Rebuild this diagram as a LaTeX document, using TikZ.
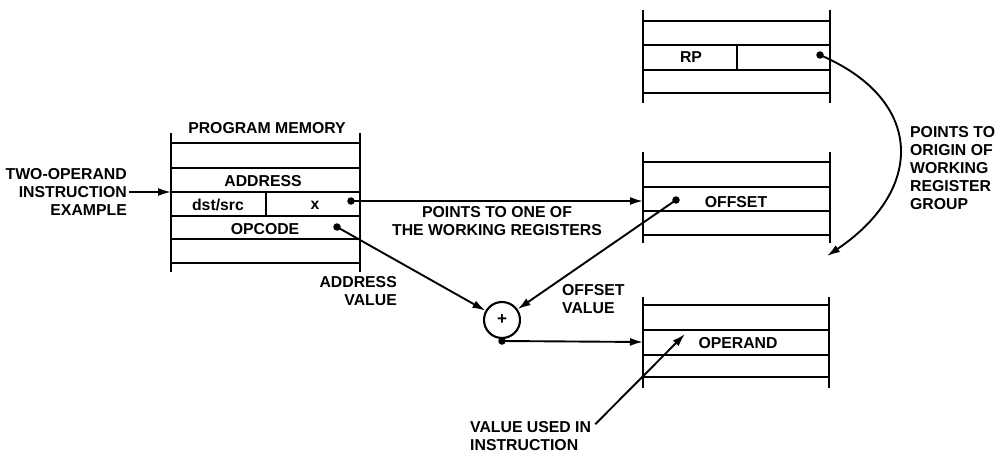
\documentclass[tikz,border=0pt]{standalone}
\usepackage{fontspec}
\setmainfont{Liberation Sans}
\usetikzlibrary{arrows.meta}
\begin{document}
\begin{tikzpicture}[x=1pt,y=-1pt,
  lbl/.style={font=\fontsize{15.8}{18}\selectfont\bfseries, inner sep=0pt},
  hline/.style={line width=2.1pt},
  vline/.style={line width=2.7pt},
  conn/.style={line width=1.9pt, -{Latex[length=13pt,width=8pt]}},
  dotm/.style={circle, fill, inner sep=0pt, minimum size=7.5pt},
  adder/.style={circle, draw, line width=2.1pt, minimum size=36pt, inner sep=0pt, font=\fontsize{17}{18}\selectfont\bfseries}]
\useasboundingbox (0,0) rectangle (997,452);

% ---------- program memory ----------
\draw[vline] (171,133) -- (171,272);
\draw[vline] (360,133) -- (360,272);
\foreach \yy in {143,168,192,216,239,263} \draw[hline] (171,\yy) -- (360,\yy);
\draw[hline] (266,192) -- (266,216);
\node[lbl, anchor=base] (pmtitle) at (267,133) {PROGRAM MEMORY};
\node[lbl, anchor=base] (addr) at (263,186) {ADDRESS};
\node[lbl, anchor=base] (dst) at (218,210) {dst/src};
\node[lbl, anchor=base] (xfld) at (315,209) {x};
\node[lbl, anchor=base] (opc) at (265,234) {OPCODE};
\node[dotm] (xdot) at (351,201) {};
\node[dotm] (opdot) at (337,227) {};

% ---------- register file: RP block ----------
\draw[vline] (643,10) -- (643,103);
\draw[vline] (830,10) -- (830,103);
\foreach \yy in {21,45,70,93} \draw[hline] (643,\yy) -- (830,\yy);
\draw[hline] (737,45) -- (737,70);
\node[lbl, anchor=base] (rp) at (691,63) {RP};
\node[dotm] (rpdot) at (820,55) {};

% ---------- register file: OFFSET block ----------
\draw[vline] (643,152) -- (643,243);
\draw[vline] (830,152) -- (830,243);
\foreach \yy in {162,187,211,235} \draw[hline] (643,\yy) -- (830,\yy);
\node[lbl, anchor=base] (offset) at (736,207) {OFFSET};
\node[dotm] (offdot) at (676,200) {};
\coordinate (offin) at (643,201);

% ---------- register file: OPERAND block ----------
\draw[vline] (643,297) -- (643,388);
\draw[vline] (829,297) -- (829,388);
\foreach \yy in {305,330,355,377} \draw[hline] (643,\yy) -- (829,\yy);
\node[lbl, anchor=base] (operand) at (738,348) {OPERAND};
\coordinate (opin) at (643,342);
\coordinate (usedtip) at (685,334);

% ---------- adder ----------
\node[adder] (plus) at (502,320) {+};
\node[dotm] (plusdot) at (502,341) {};

% ---------- labels ----------
\node[lbl, align=right, anchor=east] (twoop) at (127,191.5) {TWO-OPERAND\\INSTRUCTION\\EXAMPLE};
\coordinate (pmin) at (171,192);
\node[lbl, align=right, anchor=east] (addrval) at (397,291.5) {ADDRESS\\VALUE};
\node[lbl, align=left, anchor=west] (offval) at (562,299) {OFFSET\\VALUE};
\node[lbl, align=center] (pointsone) at (497,221.5) {POINTS TO ONE OF\\THE WORKING REGISTERS};
\node[lbl, align=left, anchor=west] (origin) at (910,168.5) {POINTS TO\\ORIGIN OF\\WORKING\\REGISTER\\GROUP};
\node[lbl, align=left, anchor=west] (used) at (470,436) {VALUE USED IN\\INSTRUCTION};
\coordinate (grouptip) at (827,256);

% ---------- connectors ----------
\draw[conn] ([xshift=2pt]twoop.east |- pmin) -- (pmin);
\draw[conn] (xdot.center) -- (offin);
\draw[conn] (opdot.center) -- (plus);
\draw[conn] (offdot.center) -- (plus);
\draw[conn] (plusdot.center) -- (opin);
\draw[conn] ([xshift=4pt,yshift=-3pt]used.north east) -- (usedtip);
\draw[conn] (rpdot.center) .. controls (925,100) and (925,190) .. (grouptip);
\end{tikzpicture}
\end{document}
